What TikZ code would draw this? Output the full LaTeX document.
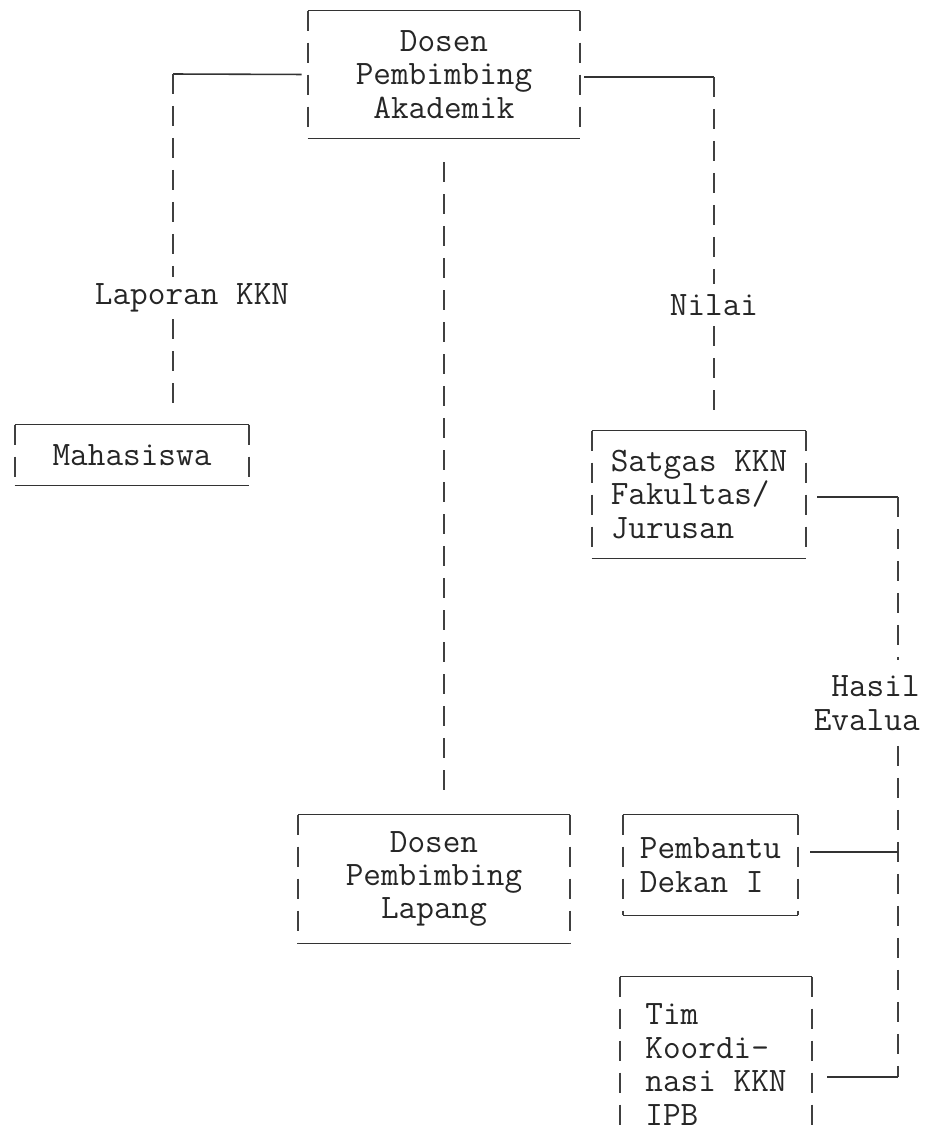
\documentclass[tikz,border=0pt]{standalone}
\usepackage{fontspec}

\tikzset{
  box/.style={inner sep=0pt, text=black!85, font=\ttfamily\fontsize{19.5}{19}\selectfont},
  lbl/.style={inner sep=0pt, minimum height=0.84cm, text=black!85, font=\ttfamily\fontsize{19.5}{19}\selectfont},
  hline/.style={line width=0.9pt, black!80},
  vline/.style={line width=1pt, black!75, dash pattern=on 0.4cm off 0.24cm},
}

\begin{document}
\begin{tikzpicture}[x=0.02cm, y=-0.02cm]
  \useasboundingbox (0,0) rectangle (936,1136);

  % Kotak
  \node[box, align=center, minimum width=5.44cm, minimum height=2.54cm] (akad) at (444,74.5) {Dosen\\Pembimbing\\Akademik};
  \node[box, minimum width=4.68cm, minimum height=1.2cm] (maha) at (132,455) {Mahasiswa};
  \node[box, align=center, minimum width=5.44cm, minimum height=2.56cm] (lapang) at (434,879) {Dosen\\Pembimbing\\Lapang};
  \node[box, align=left, minimum width=4.28cm, minimum height=2.54cm] (satgas) at (699,494.5) {Satgas KKN\\Fakultas/\\Jurusan};
  \node[box, align=left, minimum width=3.5cm, minimum height=2cm] (pd1) at (710.5,865) {Pembantu\\Dekan I};
  \node[box, align=left, minimum width=3.84cm, minimum height=3.5cm] (tim) at (716,1064.5) {Tim\\Koordi-\\nasi KKN\\IPB};

  \foreach \n in {akad,maha,lapang,satgas,pd1,tim}{
    \draw[hline] (\n.north west) -- (\n.north east) (\n.south west) -- (\n.south east);
    \draw[vline] (\n.north west) -- (\n.south west) (\n.north east) -- (\n.south east);
  }

  % Label
  \node[lbl] (lap) at (192,298) {Laporan KKN};
  \node[lbl] (nilai) at (714,305) {Nilai};
  \node[lbl, align=right, anchor=east, minimum height=1.7cm] (hasil) at (920,703) {Hasil\\Evalua};

  \coordinate (kiri) at (173,74);
  \coordinate (kanan) at (714,77);
  \coordinate (sisi) at (898,497);
  \coordinate (tengah) at (898,852);
  \coordinate (bawah) at (898,1077);

  % Laporan KKN
  \draw[hline, shorten <=0.12cm] (akad.west) -- (kiri);
  \draw[vline] (kiri) -- (kiri |- lap.north);
  \draw[vline, shorten >=0.4cm] (kiri |- lap.south) -- (kiri |- maha.north);

  % Nilai
  \draw[hline, shorten <=0.08cm] (akad.east |- kanan) -- (kanan);
  \draw[vline] (kanan) -- (nilai.north);
  \draw[vline, shorten >=0.42cm] (nilai.south) -- (nilai.south |- satgas.north);

  % Dosen Pembimbing Lapang
  \draw[vline, shorten <=0.48cm, shorten >=0.4cm] (akad.south) -- (akad.south |- lapang.north);

  % Hasil Evalua
  \draw[hline, shorten <=0.22cm] (satgas.east |- sisi) -- (sisi);
  \draw[vline] (sisi) -- (sisi |- hasil.north);
  \draw[vline] (sisi |- hasil.south) -- (bawah);
  \draw[hline, shorten <=0.24cm] (pd1.east |- tengah) -- (tengah);
  \draw[hline, shorten >=0.3cm] (bawah) -- (bawah -| tim.east);
\end{tikzpicture}
\end{document}
